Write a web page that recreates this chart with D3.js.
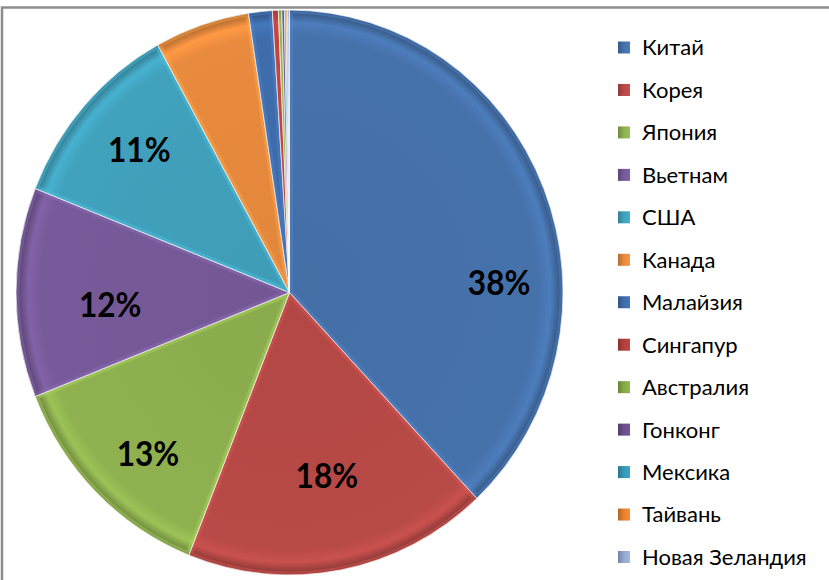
<!DOCTYPE html>
<html>
<head>
<meta charset="utf-8">
<script src="https://cdn.jsdelivr.net/npm/d3@7"></script>
<style>
  html, body { margin: 0; padding: 0; background: #ffffff; }
  svg { display: block; }
</style>
</head>
<body>
<div id="chart"></div>
<script>
// ---- data ----
const categories = ["Китай","Корея","Япония","Вьетнам","США","Канада","Малайзия","Сингапур","Австралия","Гонконг","Мексика","Тайвань","Новая Зеландия"];
const values = [38.0, 18.0, 13.0, 12.0, 11.0, 5.6, 1.4, 0.35, 0.2, 0.15, 0.1, 0.1, 0.1];
const colors = ["#4672AC","#B84A47","#8FB150","#775A99","#41A2BD","#E98B3E","#3F6DAC","#B3403C","#86AA46","#6A4F8C","#359AB6","#E8822F","#95AAD0"];

// ---- layout ----
const W = 829, H = 580;
const cx = 289.5, cy = 292.5, rx = 273.5, ry = 282.5;
// label placement: fraction along slice angle, fraction of radius
const labelLayout = [
  {t: 0.64, r: 0.767},
  {t: 0.483, r: 0.662},
  {t: 0.438, r: 0.772},
  {t: 0.414, r: 0.657},
  {t: 0.53, r: 0.746}
];

const svg = d3.select("#chart").append("svg")
  .attr("width", W).attr("height", H);

svg.append("rect").attr("x", 0).attr("y", 0).attr("width", W).attr("height", H).attr("fill", "#fff");

// frame
svg.append("rect")
  .attr("x", 2).attr("y", 7.5).attr("width", 900).attr("height", 700)
  .attr("fill", "none").attr("stroke", "#8c8c8c").attr("stroke-width", 2.5);

const defs = svg.append("defs");
const color = d3.scaleOrdinal().domain(categories).range(colors);

const pie = d3.pie().sort(null).value(d => d.value).startAngle(0).endAngle(2 * Math.PI);
const data = categories.map((c, i) => ({ name: c, value: values[i] }));
const arcs = pie(data);
const total = d3.sum(values);
const arc = d3.arc().innerRadius(0).outerRadius(rx);

const g = svg.append("g").attr("transform", `translate(${cx},${cy}) scale(1,${ry / rx})`);

// gradients (bevel-like rim shading)
arcs.forEach((d, i) => {
  const base = d3.color(color(d.data.name));
  const gr = defs.append("radialGradient")
    .attr("id", "grad" + i)
    .attr("gradientUnits", "userSpaceOnUse")
    .attr("cx", 0).attr("cy", 0).attr("r", rx);
  gr.append("stop").attr("offset", "0%").attr("stop-color", base.darker(0.1));
  gr.append("stop").attr("offset", "91%").attr("stop-color", base);
  gr.append("stop").attr("offset", "95.5%").attr("stop-color", base.brighter(0.25));
  gr.append("stop").attr("offset", "100%").attr("stop-color", base.darker(1.0));
  defs.append("clipPath").attr("id", "clip" + i)
    .append("path").attr("d", arc(d));
});

const slices = g.selectAll("g.slice").data(arcs).enter().append("g").attr("class", "slice");

slices.append("path")
  .attr("d", arc)
  .attr("fill", (d, i) => `url(#grad${i})`);

// inner edge highlight (bevel)
slices.append("path")
  .attr("d", arc)
  .attr("fill", "none")
  .attr("clip-path", (d, i) => `url(#clip${i})`)
  .attr("stroke", d => d3.color(color(d.data.name)).brighter(0.5))
  .attr("stroke-opacity", 0.45)
  .attr("stroke-width", 7);

// separators
slices.append("path")
  .attr("d", arc)
  .attr("fill", "none")
  .attr("stroke", "#ffffff")
  .attr("stroke-opacity", 0.85)
  .attr("stroke-width", 0.8);

// labels
const fmt = d3.format(".0%");
const labelFont = 34;
arcs.forEach((d, i) => {
  if (d.value / total < 0.1) return;
  const L = labelLayout[i];
  const a = d.startAngle + L.t * (d.endAngle - d.startAngle);
  const x = cx + L.r * rx * Math.sin(a);
  const y = cy - L.r * ry * Math.cos(a);
  svg.append("text")
    .attr("transform", `translate(${x},${y + 0.716 * labelFont / 2}) scale(0.93,1)`)
    .attr("text-anchor", "middle")
    .attr("font-family", "Lato, 'Open Sans', sans-serif")
    .attr("font-weight", "bold")
    .attr("font-size", labelFont)
    .attr("fill", "#000")
    .text(fmt(d.value / total));
});

// legend
const legY = d3.scalePoint().domain(categories).range([47.5, 557]);
const leg = svg.selectAll("g.leg").data(categories).enter().append("g")
  .attr("class", "leg")
  .attr("transform", d => `translate(618,${legY(d)})`);

categories.forEach((c, i) => {
  const base = d3.color(colors[i]);
  const lg = defs.append("linearGradient").attr("id", "lg" + i)
    .attr("x1", 0).attr("y1", 0).attr("x2", 1).attr("y2", 0);
  lg.append("stop").attr("offset", "0%").attr("stop-color", base.darker(0.7));
  lg.append("stop").attr("offset", "50%").attr("stop-color", base);
  lg.append("stop").attr("offset", "100%").attr("stop-color", base.brighter(0.2));
});

leg.append("rect")
  .attr("x", 0).attr("y", -6).attr("width", 12).attr("height", 12)
  .attr("fill", (d, i) => `url(#lg${i})`);

leg.append("text")
  .attr("x", 24).attr("y", 0)
  .attr("dy", "0.36em")
  .attr("font-family", "Lato, 'Open Sans', sans-serif")
  .attr("font-size", 22)
  .attr("fill", "#000")
  .text(d => d);
</script>
</body>
</html>
